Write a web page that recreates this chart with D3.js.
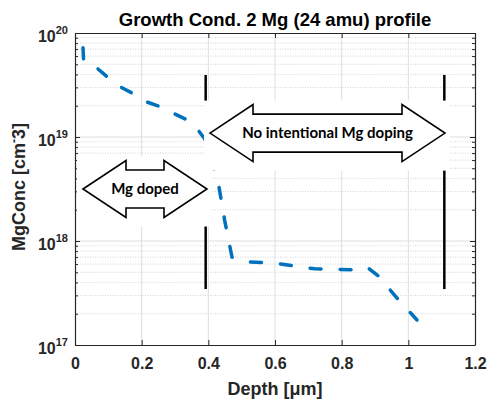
<!DOCTYPE html>
<html>
<head>
<meta charset="utf-8">
<script src="https://cdn.jsdelivr.net/npm/d3@7"></script>
<style>
  body { margin: 0; background: #fff; }
  svg text { font-family: "Liberation Sans", Arial, sans-serif; }
</style>
</head>
<body>
<div id="chart"></div>
<script>
// SIMS profile
var depth = [0.024, 0.026, 0.066, 0.096, 0.13, 0.171, 0.216, 0.249, 0.294, 0.336, 0.369, 0.39,
             0.43, 0.449, 0.471, 0.52, 0.6, 0.65, 0.72, 0.83, 0.876, 0.91, 0.966, 1.026];
var mgConc = [7.2e19, 5.3e19, 4.6e19, 3.8e19, 3.1e19, 2.65e19, 2.17e19, 1.99e19, 1.70e19, 1.46e19, 1.17e19, 9.5e18,
              3.6e18, 1.58e18, 7e17, 6.3e17, 6.1e17, 5.8e17, 5.4e17, 5.3e17, 5.6e17, 4.6e17, 2.83e17, 1.74e17];

var xTicks = [0, 0.2, 0.4, 0.6, 0.8, 1, 1.2];
var yTicks = [1e17, 1e18, 1e19, 1e20];

// region markers (depth) and their vertical extent
var markerDepth = [0.392, 1.108];
var markerRange = [3.45e17, 3.95e19];

// arrows: start depth, end depth, centre conc, label
var arrows = [
    {x0: 0.024, x1: 0.396, c: 3.16e18, label: "Mg doped"},
    {x0: 0.405, x1: 1.11, c: 1.09e19, label: "No intentional Mg doping"}
];

var W = 487, H = 401;
var margin = {left: 75, right: 12, top: 33, bottom: 56};
var width = W - margin.left - margin.right;
var height = H - margin.top - margin.bottom;

var svg = d3.select("#chart").append("svg")
    .attr("width", W).attr("height", H);
var g = svg.append("g")
    .attr("transform", "translate(" + margin.left + "," + margin.top + ")");

var x = d3.scaleLinear().domain([0, 1.2]).range([0, width]);
var y = d3.scaleLog().domain([1e17, 1e20]).range([height, 0]);

var axisColor = "#262626";

// minor values between decades
var minorVals = [];
for (var e = 17; e < 20; e++) {
    for (var m = 2; m <= 9; m++) minorVals.push(m * Math.pow(10, e));
}

// grid
g.append("g").selectAll("line").data(minorVals).enter().append("line")
    .attr("x1", 0).attr("x2", width)
    .attr("y1", function(d){ return y(d); }).attr("y2", function(d){ return y(d); })
    .attr("stroke", "#d4d4d4").attr("stroke-width", 1)
    .attr("stroke-dasharray", "1,1.5");
g.append("g").selectAll("line").data(yTicks.slice(1, 3)).enter().append("line")
    .attr("x1", 0).attr("x2", width)
    .attr("y1", function(d){ return y(d); }).attr("y2", function(d){ return y(d); })
    .attr("stroke", "#dedede").attr("stroke-width", 1);
g.append("g").selectAll("line").data(xTicks.slice(1, 6)).enter().append("line")
    .attr("x1", function(d){ return x(d); }).attr("x2", function(d){ return x(d); })
    .attr("y1", 0).attr("y2", height)
    .attr("stroke", "#dedede").attr("stroke-width", 1);

// axes
var xAxis = g.append("g").attr("transform", "translate(0," + height + ")")
    .call(d3.axisBottom(x).tickValues(xTicks).tickFormat(d3.format("~g"))
        .tickSizeInner(-5).tickSizeOuter(0).tickPadding(13));
g.append("g")
    .call(d3.axisTop(x).tickValues(xTicks).tickFormat("").tickSizeInner(-5).tickSizeOuter(0));
var yAxis = g.append("g")
    .call(d3.axisLeft(y).tickValues(yTicks).tickFormat("").tickSizeInner(-5).tickSizeOuter(0).tickPadding(7));
g.append("g").attr("transform", "translate(" + width + ",0)")
    .call(d3.axisRight(y).tickValues(yTicks).tickFormat("").tickSizeInner(-5).tickSizeOuter(0));
g.append("g").call(d3.axisLeft(y).tickValues(minorVals).tickFormat("").tickSizeInner(-3).tickSizeOuter(0))
    .select(".domain").remove();
g.append("g").attr("transform", "translate(" + width + ",0)")
    .call(d3.axisRight(y).tickValues(minorVals).tickFormat("").tickSizeInner(-3).tickSizeOuter(0))
    .select(".domain").remove();

g.selectAll(".domain, .tick line").attr("stroke", axisColor);
g.selectAll(".domain").attr("stroke-width", 1.2);

xAxis.selectAll("text")
    .attr("font-size", "16px").attr("font-weight", "bold").attr("fill", axisColor);

// y tick labels as 10^n
yAxis.selectAll(".tick").each(function(d){
    var t = d3.select(this).select("text")
        .attr("x", -7).attr("dy", null).attr("y", 8)
        .attr("text-anchor", "end").attr("fill", axisColor)
        .attr("font-weight", "bold").attr("font-size", "16px");
    t.text("");
    t.append("tspan").text("10");
    t.append("tspan").attr("font-size", "11px").attr("dy", -8)
        .text(Math.round(Math.log10(d)));
});

// data line
var line = d3.line()
    .x(function(d){ return x(d[0]); })
    .y(function(d){ return y(d[1]); });
g.append("path")
    .datum(d3.zip(depth, mgConc))
    .attr("fill", "none")
    .attr("stroke", "#0072BD")
    .attr("stroke-width", 3.5)
    .attr("stroke-linecap", "round")
    .attr("stroke-dasharray", "11,19")
    .attr("d", line);

// region marker lines
g.append("g").selectAll("line").data(markerDepth).enter().append("line")
    .attr("x1", function(d){ return x(d); }).attr("x2", function(d){ return x(d); })
    .attr("y1", y(markerRange[0])).attr("y2", y(markerRange[1]))
    .attr("stroke", "#000").attr("stroke-width", 2.5);

// block arrows on white boxes
var headLen = 43, headHalf = 28.5, shaftHalf = 19;
var pad = {l: 6, r: 5, t: 4, b: 9};
var ag = g.selectAll(".arrow").data(arrows).enter().append("g").attr("class", "arrow");

ag.append("rect")
    .attr("x", function(d){ return x(d.x0) - pad.l; })
    .attr("y", function(d){ return y(d.c) - headHalf - pad.t; })
    .attr("width", function(d){ return x(d.x1) - x(d.x0) + pad.l + pad.r; })
    .attr("height", headHalf * 2 + pad.t + pad.b)
    .attr("fill", "#fff");

ag.append("path")
    .attr("fill", "#fff").attr("stroke", "#000").attr("stroke-width", 1.6)
    .attr("d", function(d){
        var a = x(d.x0), b = x(d.x1), c = y(d.c);
        return "M" + a + "," + c +
            "L" + (a + headLen) + "," + (c - headHalf) +
            "L" + (a + headLen) + "," + (c - shaftHalf) +
            "L" + (b - headLen) + "," + (c - shaftHalf) +
            "L" + (b - headLen) + "," + (c - headHalf) +
            "L" + b + "," + c +
            "L" + (b - headLen) + "," + (c + headHalf) +
            "L" + (b - headLen) + "," + (c + shaftHalf) +
            "L" + (a + headLen) + "," + (c + shaftHalf) +
            "L" + (a + headLen) + "," + (c + headHalf) + "Z";
    });

ag.append("text")
    .attr("x", function(d){ return (x(d.x0) + x(d.x1)) / 2; })
    .attr("y", function(d){ return y(d.c) + 5; })
    .attr("text-anchor", "middle")
    .attr("font-size", "15px").attr("font-weight", "bold")
    .style("font-family", "Lato, 'Open Sans', sans-serif")
    .attr("fill", "#000")
    .text(function(d){ return d.label; });

// title and labels
svg.append("text")
    .attr("x", margin.left + width / 2).attr("y", 26)
    .attr("text-anchor", "middle").attr("font-size", "18.5px").attr("font-weight", "bold")
    .attr("fill", "#000")
    .text("Growth Cond. 2 Mg (24 amu) profile");

svg.append("text")
    .attr("x", margin.left + width / 2).attr("y", 395)
    .attr("text-anchor", "middle").attr("font-size", "18px").attr("font-weight", "bold")
    .attr("fill", axisColor)
    .text("Depth [\u03bcm]");

var yl = svg.append("text")
    .attr("transform", "translate(25," + 187 + ") rotate(-90)")
    .attr("text-anchor", "middle").attr("font-size", "18px").attr("font-weight", "bold")
    .attr("fill", axisColor);
yl.append("tspan").text("MgConc [cm");
yl.append("tspan").attr("font-size", "12px").attr("dy", -7).text("-");
yl.append("tspan").attr("dy", 7).text("3]");
</script>
</body>
</html>
